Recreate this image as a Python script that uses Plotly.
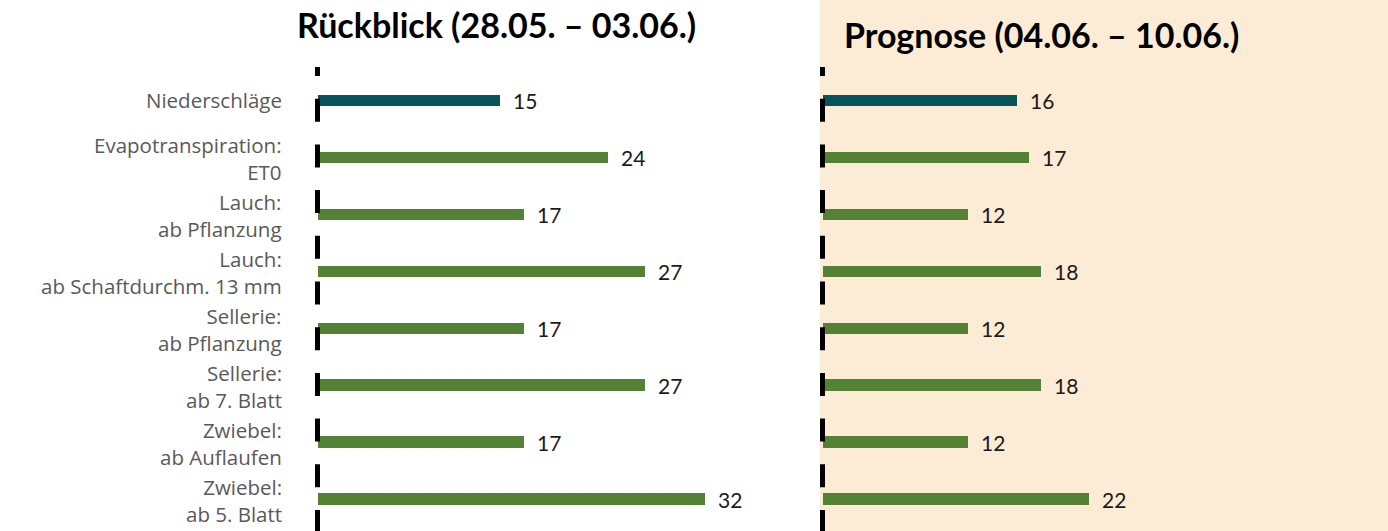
import plotly.graph_objects as go

categories = [
    "Niederschläge",
    "Evapotranspiration:<br>ET0",
    "Lauch:<br>ab Pflanzung",
    "Lauch:<br>ab Schaftdurchm. 13 mm",
    "Sellerie:<br>ab Pflanzung",
    "Sellerie:<br>ab 7. Blatt",
    "Zwiebel:<br>ab Auflaufen",
    "Zwiebel:<br>ab 5. Blatt",
]
rueckblick = [15, 24, 17, 27, 17, 27, 17, 32]
prognose = [16, 17, 12, 18, 12, 18, 12, 22]
bar_colors = ["#07545A"] + ["#548235"] * 7
titles = ["Rückblick (28.05. – 03.06.)", "Prognose (04.06. – 10.06.)"]

W, H = 1388, 531
FONT = "Lato"
LABEL_FONT = "Open Sans"

dom1 = [318 / W, 802 / W]
dom2 = [823 / W, 1307 / W]

fig = go.Figure()
fig.add_trace(go.Bar(x=rueckblick, y=categories, orientation="h", width=0.2,
                     marker=dict(color=bar_colors, line=dict(width=0)),
                     xaxis="x", yaxis="y", hoverinfo="x+y"))
fig.add_trace(go.Bar(x=prognose, y=categories, orientation="h", width=0.2,
                     marker=dict(color=bar_colors, line=dict(width=0)),
                     xaxis="x2", yaxis="y2", hoverinfo="x+y"))

ydom = [3.5 / H, (H - 72.0) / H]
common_x = dict(range=[0, 40], showgrid=False, zeroline=False, showticklabels=False,
                showline=False, ticks="")
common_y = dict(type="category", categoryorder="array", categoryarray=categories,
                autorange="reversed", domain=ydom, showgrid=False, zeroline=False,
                showticklabels=False, showline=False, ticks="")

fig.update_layout(
    width=W, height=H,
    margin=dict(l=0, r=0, t=0, b=0),
    paper_bgcolor="white", plot_bgcolor="rgba(0,0,0,0)",
    showlegend=False, bargap=0,
    font=dict(family=FONT),
    xaxis=dict(domain=dom1, **common_x),
    xaxis2=dict(domain=dom2, **common_x),
    yaxis=dict(anchor="x", **common_y),
    yaxis2=dict(anchor="x2", **common_y),
)

shapes = [
    dict(type="rect", xref="paper", yref="paper", x0=820 / W, x1=1.0, y0=0, y1=1,
         fillcolor="#FCEBD5", line=dict(width=0), layer="below"),
]
# dashed zero lines at the start of each panel (paper refs so they are not clipped)
for d in [dom1, dom2]:
    xp = d[0] - 0.5 / W
    shapes.append(dict(type="line", xref="paper", yref="paper", x0=xp, x1=xp,
                       y0=-2 / H, y1=(H - 67) / H,
                       line=dict(color="black", width=5, dash="23px,22.7px"),
                       layer="above"))
fig.update_layout(shapes=shapes)

ann = []
# titles
ann.append(dict(text="<b>" + titles[0] + "</b>", xref="paper", yref="paper",
                x=496.5 / W, y=(H - 24.5) / H, xanchor="center", yanchor="middle",
                showarrow=False, font=dict(size=34, color="black", family=FONT)))
ann.append(dict(text="<b>" + titles[1] + "</b>", xref="paper", yref="paper",
                x=1041.5 / W, y=(H - 34.5) / H, xanchor="center", yanchor="middle",
                showarrow=False, font=dict(size=34, color="black", family=FONT)))

# category labels
for cat in categories:
    n = len(cat.split("<br>"))
    ann.append(dict(text=cat, xref="paper", yref="y", x=284 / W, y=cat,
                    xanchor="right", yanchor="middle", align="right",
                    yshift=(-1.5 if n > 1 else 0),
                    showarrow=False, font=dict(size=20.5, color="#595959", family=LABEL_FONT)))

# value labels
for xr, yr, vals in [("x", "y", rueckblick), ("x2", "y2", prognose)]:
    for cat, v in zip(categories, vals):
        ann.append(dict(text=str(v), xref=xr, yref=yr, x=v, y=cat,
                        xanchor="left", yanchor="middle", xshift=11, yshift=0,
                        showarrow=False, font=dict(size=21, color="#1a1a1a", family=FONT)))

fig.update_layout(annotations=ann)
fig.write_html("out.html", config={"displayModeBar": False},
               post_script="document.body.style.margin='0';document.body.style.overflow='hidden';")
